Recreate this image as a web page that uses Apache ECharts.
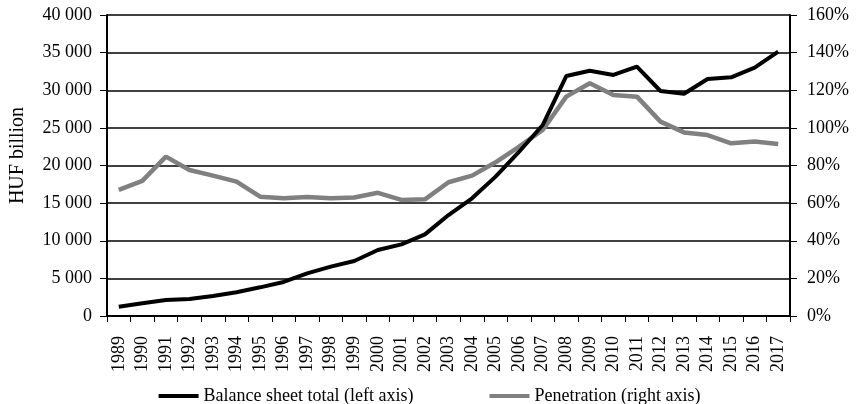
<!DOCTYPE html>
<html>
<head>
<meta charset="utf-8">
<script src="https://cdn.jsdelivr.net/npm/echarts@6/dist/echarts.min.js"></script>
<style>
  html, body { margin: 0; padding: 0; background: #fff; }
  #chart { width: 859px; height: 404px; }
</style>
</head>
<body>
<div id="chart"></div>
<script>
const years = [
  "1989", "1990", "1991", "1992", "1993", "1994", "1995", "1996", "1997", "1998",
  "1999", "2000", "2001", "2002", "2003", "2004", "2005", "2006", "2007", "2008",
  "2009", "2010", "2011", "2012", "2013", "2014", "2015", "2016", "2017"
];
// HUF billion
const balanceSheet = [
  1240, 1690, 2130, 2260, 2660, 3150, 3810, 4520, 5670, 6560,
  7310, 8770, 9520, 10850, 13420, 15640, 18520, 21830, 25380, 31890,
  32600, 32030, 33130, 29900, 29540, 31500, 31720, 33000, 35130
];
// percent
const penetration = [
  67.0, 71.8, 84.7, 77.6, 74.6, 71.4, 63.4, 62.6, 63.3, 62.6,
  63.0, 65.5, 61.7, 62.0, 71.1, 74.6, 81.7, 90.0, 98.9, 116.6,
  123.7, 117.5, 116.6, 103.3, 97.6, 96.2, 91.8, 92.7, 91.4
];

const font = "Liberation Serif";
const chart = echarts.init(document.getElementById("chart"));

const fmtThousands = v => String(v).replace(/\B(?=(\d{3})+(?!\d))/g, " ");

chart.setOption({
  animation: false,
  textStyle: { fontFamily: font, color: "#000" },
  grid: { left: 106, right: 69, top: 15, bottom: 88 },
  legend: {
    top: 382,
    left: "center",
    itemGap: 76,
    itemWidth: 40,
    itemHeight: 4,
    icon: "rect",
    textStyle: { fontFamily: font, fontSize: 18, color: "#000" },
    data: ["Balance sheet total (left axis)", "Penetration (right axis)"]
  },
  xAxis: {
    type: "category",
    data: years,
    boundaryGap: true,
    axisLine: { lineStyle: { color: "#000", width: 2 } },
    axisTick: { show: true, length: 6, lineStyle: { color: "#000" } },
    axisLabel: {
      rotate: 90,
      interval: 0,
      fontFamily: font,
      fontSize: 18,
      color: "#000",
      margin: 20
    }
  },
  yAxis: [
    {
      type: "value",
      min: 0,
      max: 40000,
      interval: 5000,
      name: "HUF billion",
      nameLocation: "middle",
      nameGap: 79,
      nameTextStyle: {
        fontFamily: font,
        fontSize: 20,
        color: "#000",
        padding: [0, 0, 0, 20]
      },
      axisLine: { show: true, lineStyle: { color: "#000", width: 2 } },
      axisTick: { show: true, length: 7, lineStyle: { color: "#000" } },
      axisLabel: {
        fontFamily: font,
        fontSize: 18,
        color: "#000",
        margin: 15,
        formatter: fmtThousands
      },
      splitLine: { show: true, lineStyle: { color: "#000", width: 1.5 } }
    },
    {
      type: "value",
      min: 0,
      max: 160,
      interval: 20,
      position: "right",
      axisLine: { show: true, lineStyle: { color: "#000", width: 2 } },
      axisTick: { show: true, length: 7, lineStyle: { color: "#000" } },
      axisLabel: {
        fontFamily: font,
        fontSize: 18,
        color: "#000",
        margin: 17,
        formatter: "{value}%"
      },
      splitLine: { show: false }
    }
  ],
  series: [
    {
      name: "Penetration (right axis)",
      type: "line",
      yAxisIndex: 1,
      data: penetration,
      symbol: "none",
      color: "#808080",
      lineStyle: { color: "#808080", width: 4.5 }
    },
    {
      name: "Balance sheet total (left axis)",
      type: "line",
      yAxisIndex: 0,
      data: balanceSheet,
      symbol: "none",
      color: "#000",
      lineStyle: { color: "#000", width: 4 }
    }
  ]
});

window.addEventListener("resize", function() {
  chart.resize();
});
</script>
</body>
</html>
